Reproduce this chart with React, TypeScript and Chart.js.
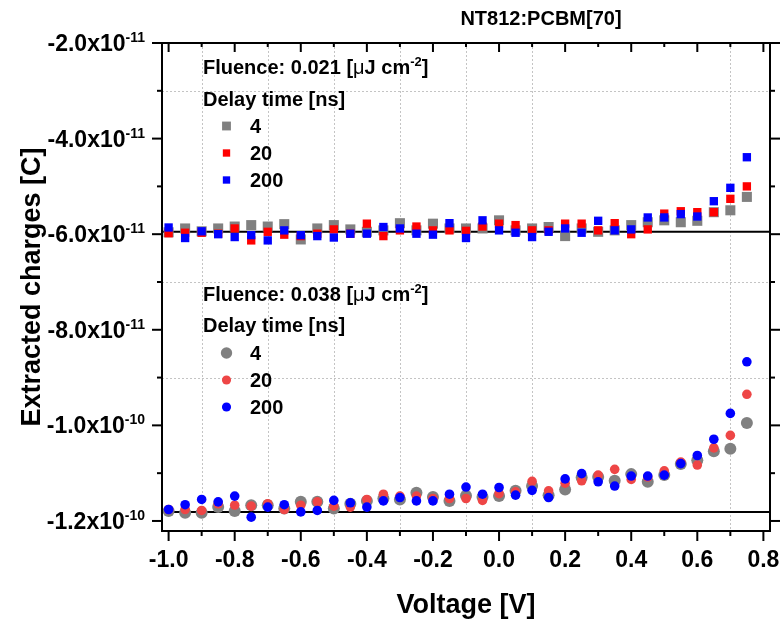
import React, { useEffect, useRef } from "react";
import { Chart, registerables } from "chart.js";
Chart.register(...registerables);

// ---------- data (charges in units of 1e-11 C) ----------
const voltages = [-1.0, -0.95, -0.9, -0.85, -0.8, -0.75, -0.7, -0.65, -0.6, -0.55, -0.5, -0.45, -0.4, -0.35, -0.3, -0.25, -0.2, -0.15, -0.1, -0.05, 0.0, 0.05, 0.1, 0.15, 0.2, 0.25, 0.3, 0.35, 0.4, 0.45, 0.5, 0.55, 0.6, 0.65, 0.7, 0.75];

// Fluence 0.021 uJ cm-2 (squares)
const sq4 = [-5.96, -5.88, -5.94, -5.88, -5.84, -5.81, -5.84, -5.79, -6.11, -5.88, -5.81, -5.90, -5.95, -5.92, -5.77, -5.92, -5.78, -5.88, -5.88, -5.88, -5.71, -5.92, -5.88, -5.85, -6.04, -5.88, -5.95, -5.92, -5.81, -5.75, -5.71, -5.75, -5.72, -5.54, -5.50, -5.22];
const sq20 = [-5.98, -5.97, -5.97, -5.99, -5.88, -6.13, -5.95, -6.01, -6.04, -5.99, -5.90, -5.99, -5.78, -6.04, -5.92, -5.84, -5.92, -5.92, -5.93, -5.84, -5.78, -5.81, -5.92, -5.92, -5.78, -5.78, -5.92, -5.77, -6.00, -5.90, -5.57, -5.52, -5.54, -5.54, -5.26, -5.00];
const sq200 = [-5.86, -6.08, -5.94, -6.00, -6.06, -6.02, -6.13, -5.92, -6.02, -6.04, -6.07, -5.99, -5.99, -5.85, -5.88, -5.99, -6.01, -5.77, -6.08, -5.71, -5.92, -5.97, -6.06, -5.95, -5.88, -5.97, -5.72, -5.92, -5.90, -5.65, -5.65, -5.58, -5.63, -5.31, -5.03, -4.39];

// Fluence 0.038 uJ cm-2 (circles)
const ci4 = [-11.79, -11.83, -11.83, -11.71, -11.79, -11.67, -11.67, -11.74, -11.60, -11.60, -11.74, -11.64, -11.58, -11.53, -11.55, -11.41, -11.50, -11.58, -11.47, -11.50, -11.48, -11.37, -11.27, -11.46, -11.34, -11.09, -11.08, -11.16, -11.02, -11.18, -11.04, -10.81, -10.73, -10.54, -10.49, -9.95];
const ci20 = [-11.76, -11.76, -11.78, -11.64, -11.67, -11.69, -11.64, -11.76, -11.67, -11.60, -11.69, -11.71, -11.55, -11.44, -11.48, -11.48, -11.53, -11.53, -11.53, -11.57, -11.43, -11.39, -11.17, -11.37, -11.21, -11.16, -11.04, -10.92, -11.13, -11.08, -10.95, -10.77, -10.83, -10.47, -10.21, -9.35];
const ci200 = [-11.76, -11.66, -11.55, -11.60, -11.48, -11.92, -11.71, -11.66, -11.81, -11.78, -11.57, -11.62, -11.71, -11.58, -11.51, -11.58, -11.58, -11.44, -11.29, -11.44, -11.30, -11.46, -11.36, -11.51, -11.12, -11.01, -11.18, -11.27, -11.06, -11.06, -11.04, -10.80, -10.63, -10.29, -9.75, -8.67];

// reference (horizontal) levels
const refLevels = [-5.95, -11.81];

// axis ticks / labels
const xMajorTicks = [-1.0, -0.8, -0.6, -0.4, -0.2, 0.0, 0.2, 0.4, 0.6, 0.8];
const xMinorTicks = [-0.9, -0.7, -0.5, -0.3, -0.1, 0.1, 0.3, 0.5, 0.7];
const xGrid = [-0.9, -0.7, -0.5, -0.3, -0.1, 0.1, 0.7];
const yMajorTicks = [-2, -4, -6, -8, -10, -12];
const yTickMantissa = ["-2.0x10", "-4.0x10", "-6.0x10", "-8.0x10", "-1.0x10", "-1.2x10"];
const yTickExponent = ["-11", "-11", "-11", "-11", "-10", "-10"];
const yMinorTicks = [-3, -5, -7, -9, -11];
const yGrid = [-3, -7, -9];

const delayTimes = ["4", "20", "200"];
const fluences = ["0.021", "0.038"];
const chartTitle = "NT812:PCBM[70]";
const xTitle = "Voltage [V]";
const yTitle = "Extracted charges [C]";

const UNIT = 1e-11;
const X_MIN = -1.02;
const X_MAX = 0.82;
const Y_MAX = -2.0;
const Y_MIN = -12.21;

const FONT = '"Liberation Sans", Arial, sans-serif';
const GRAY = "#808080";
const RED_SQ = "#ff0000";
const RED_CI = "#ee4646";
const BLUE = "#0000ff";

const pts = (ys: number[]) => voltages.map((v, i) => ({ x: v, y: ys[i] * UNIT }));

type Run = { t: string; f: string; dy?: number };
function richWidth(ctx: CanvasRenderingContext2D, runs: Run[]) {
  let w = 0;
  for (const r of runs) { ctx.font = r.f; w += ctx.measureText(r.t).width; }
  return w;
}
function drawRich(ctx: CanvasRenderingContext2D, runs: Run[], x: number, y: number) {
  let cx = x;
  for (const r of runs) {
    ctx.font = r.f;
    ctx.fillText(r.t, cx, y + (r.dy || 0));
    cx += ctx.measureText(r.t).width;
  }
}

function line(ctx: CanvasRenderingContext2D, x1: number, y1: number, x2: number, y2: number) {
  ctx.beginPath(); ctx.moveTo(x1, y1); ctx.lineTo(x2, y2); ctx.stroke();
}

const decorPlugin = {
  id: "decor",
  beforeDatasetsDraw(chart: any) {
    const { ctx, chartArea: a, scales } = chart;
    const xs = scales.x, ys = scales.y;
    ctx.save();
    ctx.strokeStyle = "#c4c4c4";
    ctx.lineWidth = 1;
    ctx.setLineDash([2, 2]);
    xGrid.forEach((v) => { const px = Math.round(xs.getPixelForValue(v)) + 0.5; line(ctx, px, a.top, px, a.bottom); });
    yGrid.forEach((v) => { const py = Math.round(ys.getPixelForValue(v * UNIT)) + 0.5; line(ctx, a.left, py, a.right, py); });
    ctx.restore();
  },
  afterDatasetsDraw(chart: any) {
    const { ctx, chartArea: a, scales } = chart;
    const xs = scales.x, ys = scales.y;
    ctx.save();
    ctx.setLineDash([]);
    ctx.strokeStyle = "#000";
    ctx.lineWidth = 2;
    ctx.strokeRect(a.left, a.top, a.right - a.left, a.bottom - a.top);
    // x ticks
    xMajorTicks.forEach((v) => {
      const px = xs.getPixelForValue(v);
      line(ctx, px, a.bottom, px, a.bottom + 10);
      line(ctx, px, a.top, px, a.top + 9);
    });
    xMinorTicks.forEach((v) => {
      const px = xs.getPixelForValue(v);
      line(ctx, px, a.bottom, px, a.bottom + 5);
      line(ctx, px, a.top, px, a.top + 4);
    });
    // y ticks
    yMajorTicks.forEach((v) => {
      const py = ys.getPixelForValue(v * UNIT);
      line(ctx, a.left - 10, py, a.left, py);
      line(ctx, a.right, py, a.right + 10, py);
    });
    yMinorTicks.forEach((v) => {
      const py = ys.getPixelForValue(v * UNIT);
      line(ctx, a.left - 5, py, a.left, py);
      line(ctx, a.right, py, a.right + 5, py);
    });

    ctx.fillStyle = "#000";
    // x labels
    ctx.font = `bold 23px ${FONT}`;
    ctx.textAlign = "center";
    ctx.textBaseline = "alphabetic";
    xMajorTicks.forEach((v) => {
      ctx.fillText(v.toFixed(1), xs.getPixelForValue(v), a.bottom + 36);
    });
    // y labels
    ctx.textAlign = "left";
    yMajorTicks.forEach((v, i) => {
      const py = ys.getPixelForValue(v * UNIT);
      const runs: Run[] = [
        { t: yTickMantissa[i], f: `bold 23px ${FONT}`, dy: 8 },
        { t: yTickExponent[i], f: `bold 14px ${FONT}`, dy: -1 },
      ];
      const w = richWidth(ctx, runs);
      drawRich(ctx, runs, a.left - 17 - w, py);
    });
    // axis titles
    ctx.textAlign = "center";
    ctx.font = `bold 27px ${FONT}`;
    ctx.fillText(xTitle, (a.left + a.right) / 2, 613);
    ctx.save();
    ctx.translate(40, (a.top + a.bottom) / 2);
    ctx.rotate(-Math.PI / 2);
    ctx.fillText(yTitle, 0, 0);
    ctx.restore();
    // chart title
    ctx.font = `bold 20px ${FONT}`;
    ctx.fillText(chartTitle, 541, 25);

    // legends
    ctx.textAlign = "left";
    const ds = chart.data.datasets;
    const drawLegend = (fluence: string, yF: number, yD: number, itemYs: number[], dsIdx: number[], circle: boolean) => {
      const b = `bold 20px ${FONT}`;
      drawRich(ctx, [
        { t: `Fluence: ${fluence} [`, f: b },
        { t: "\u03bc", f: `20px ${FONT}` },
        { t: "J cm", f: b },
        { t: "-2", f: `bold 13px ${FONT}`, dy: -8 },
        { t: "]", f: b },
      ], 203, yF);
      ctx.font = b;
      ctx.fillText("Delay time [ns]", 203, yD);
      itemYs.forEach((yy, k) => {
        const d = ds[dsIdx[k]];
        const cy = yy - 7;
        ctx.fillStyle = d.backgroundColor;
        if (circle) {
          const r = d.pointRadius * 0.95;
          ctx.beginPath(); ctx.arc(226.5, cy, r, 0, Math.PI * 2); ctx.fill();
        } else {
          const s = d.pointRadius * Math.SQRT2 * 0.88;
          ctx.fillRect(226.5 - s / 2, cy - s / 2, s, s);
        }
        ctx.fillStyle = "#000";
        ctx.font = b;
        ctx.fillText(delayTimes[k], 250, yy);
      });
    };
    drawLegend(fluences[0], 73.5, 106, [133, 160, 187], [0, 1, 2], false);
    drawLegend(fluences[1], 300.5, 332, [360, 387, 414], [3, 4, 5], true);
    ctx.restore();
  },
};

export default function App() {
  const ref = useRef<HTMLCanvasElement | null>(null);
  useEffect(() => {
    document.body.style.margin = "0";
    const canvas = ref.current!;
    const mk = (label: string, ys: number[], color: string, style: string, radius: number, order: number) => ({
      type: "scatter" as const,
      label,
      data: pts(ys),
      backgroundColor: color,
      borderColor: color,
      pointStyle: style,
      pointRadius: radius,
      pointBorderWidth: 0,
      borderWidth: 0,
      showLine: false,
      order,
    });
    const refSets = refLevels.map((lv) => ({
      type: "line" as const,
      label: "ref",
      data: [{ x: X_MIN, y: lv * UNIT }, { x: X_MAX, y: lv * UNIT }],
      borderColor: "#000",
      borderWidth: 2,
      pointRadius: 0,
      fill: false,
      order: 10,
    }));
    const chart = new Chart(canvas, {
      type: "scatter",
      data: {
        datasets: [
          mk("4", sq4, GRAY, "rect", 7.1, 3),
          mk("20", sq20, RED_SQ, "rect", 5.9, 2),
          mk("200", sq200, BLUE, "rect", 5.9, 1),
          mk("4", ci4, GRAY, "circle", 6, 3),
          mk("20", ci20, RED_CI, "circle", 4.8, 2),
          mk("200", ci200, BLUE, "circle", 4.8, 1),
          ...refSets,
        ] as any,
      },
      options: {
        animation: false,
        responsive: false,
        devicePixelRatio: 1,
        layout: { padding: { top: 43, left: 162, right: 13, bottom: 94 } },
        plugins: { legend: { display: false }, tooltip: { enabled: false }, title: { display: false } },
        scales: {
          x: { type: "linear", display: false, min: X_MIN, max: X_MAX },
          y: { type: "linear", display: false, min: Y_MIN * UNIT, max: Y_MAX * UNIT },
        },
      },
      plugins: [decorPlugin],
    });
    return () => chart.destroy();
  }, []);
  return <canvas ref={ref} width={783} height={625} style={{ display: "block", width: 783, height: 625 }} />;
}
